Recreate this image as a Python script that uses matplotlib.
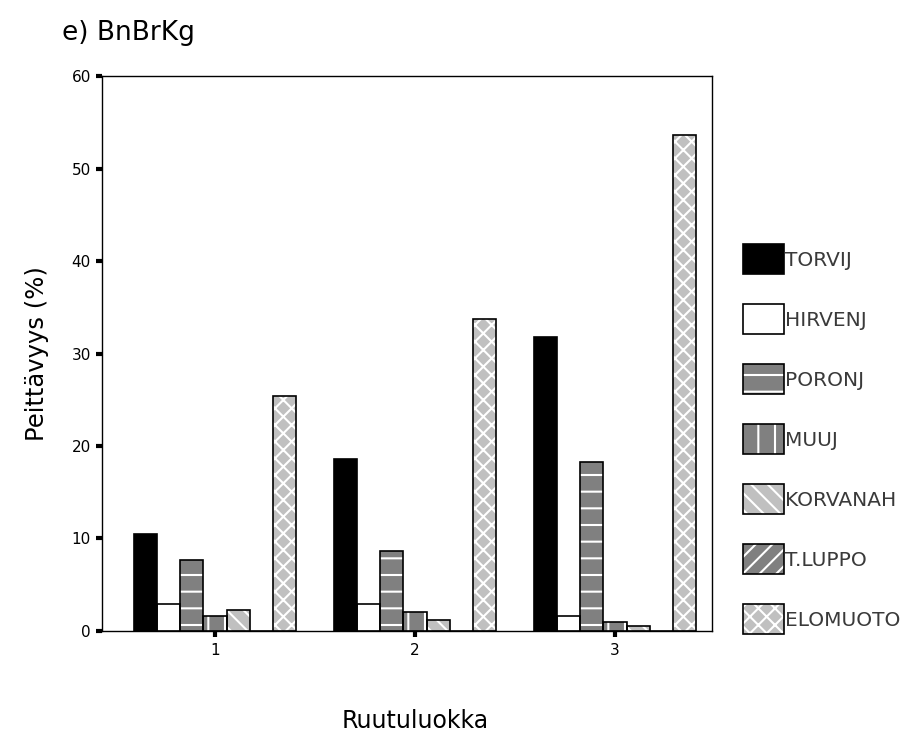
import numpy as np
import matplotlib
matplotlib.use('Agg')
from matplotlib import pyplot as plt
from matplotlib.patches import Patch

plt.rcParams['font.family'] = ['DejaVu Sans']
plt.rcParams['hatch.linewidth'] = 1.5

# data
groups = ['1', '2', '3']
series = ['TORVIJ', 'HIRVENJ', 'PORONJ', 'MUUJ', 'KORVANAH', 'T.LUPPO', 'ELOMUOTO']
torvij = [10.5, 18.6, 31.8]
hirvenj = [2.9, 2.9, 1.6]
poronj = [7.7, 8.6, 18.3]
muuj = [1.6, 2.0, 1.0]
korvanah = [2.3, 1.2, 0.5]
t_luppo = [0.0, 0.0, 0.0]
elomuoto = [25.4, 33.7, 53.6]
values = [torvij, hirvenj, poronj, muuj, korvanah, t_luppo, elomuoto]

# styles
faces = ['black', 'white', '#808080', '#808080', '#c0c0c0', '#808080', '#c0c0c0']
hatches = [None, None, '-', '|', '\\\\', '//', 'xx']

fig = plt.figure(figsize=(9.06, 7.33), dpi=100)
ax = fig.add_axes([0.1126, 0.1392, 0.6733, 0.757])

x = np.arange(1, len(groups) + 1)
w = 0.116
handles = []
for i, (name, vals) in enumerate(zip(series, values)):
    pos = x + (i - 3) * w
    ax.bar(pos, vals, w, color=faces[i], hatch=hatches[i], edgecolor='white',
           linewidth=0, zorder=2)
    ax.bar(pos, vals, w, fill=False, edgecolor='black', linewidth=1.2, zorder=3)
    fill = Patch(facecolor=faces[i], hatch=hatches[i], edgecolor='white', linewidth=0)
    edge = Patch(fill=False, edgecolor='black', linewidth=1.2)
    handles.append((fill, edge))

ax.set_xlim(0.435, 3.485)
ax.set_ylim(0, 60)
ax.set_xticks(x)
ax.set_xticklabels(groups)
ax.set_yticks(np.arange(0, 61, 10))
ax.tick_params(axis='both', direction='out', length=4, width=3, labelsize=11,
               colors='black', pad=4)
ax.tick_params(axis='x', pad=5)
for sp in ax.spines.values():
    sp.set_linewidth(1.0)
    sp.set_color('black')

ax.set_ylabel('Peittävyys (%)', fontsize=17.5, labelpad=16)
fig.text(0.458, 0.007, 'Ruutuluokka', fontsize=17, ha='center', va='baseline')
fig.text(0.068, 0.955, 'e) BnBrKg', fontsize=19, ha='left', va='center')

leg = fig.legend(handles, series, loc='upper left',
                 bbox_to_anchor=(0.820, 0.667), bbox_transform=fig.transFigure,
                 frameon=False, fontsize=14.5, handlelength=2.03,
                 handleheight=1.915, labelspacing=1.49, handletextpad=0.05,
                 borderpad=0, borderaxespad=0)
for t in leg.get_texts():
    t.set_color('#3a3a3a')

plt.savefig('out.png', dpi=100)
